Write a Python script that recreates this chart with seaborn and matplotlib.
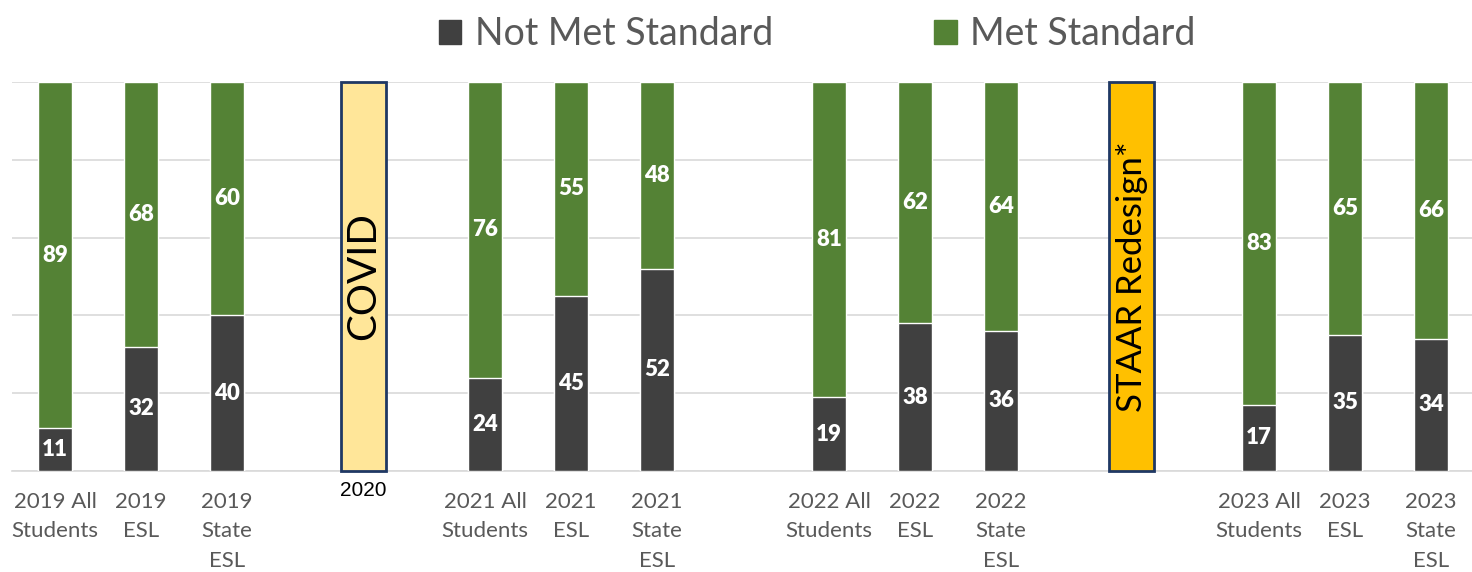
import matplotlib
matplotlib.use("Agg")
import matplotlib.pyplot as plt
import seaborn as sns
import pandas as pd
import numpy as np
from matplotlib.patches import Rectangle, Patch

# ---------------- data ----------------
categories = ["2019 All\nStudents", "2019\nESL", "2019\nState\nESL", "", "",
              "2021 All\nStudents", "2021\nESL", "2021\nState\nESL", "",
              "2022 All\nStudents", "2022\nESL", "2022\nState\nESL", "", "",
              "2023 All\nStudents", "2023\nESL", "2023\nState\nESL"]
not_met = [11, 32, 40, None, None, 24, 45, 52, None, 19, 38, 36, None, None, 17, 35, 34]
met = [89, 68, 60, None, None, 76, 55, 48, None, 81, 62, 64, None, None, 83, 65, 66]
series_names = ["Not Met Standard", "Met Standard"]
event_labels = ["COVID", "STAAR Redesign*"]
event_year = "2020"

# ---------------- style ----------------
DARK = "#404040"
GREEN = "#548235"
GRID = "#d9d9d9"
TXT = "#595959"

sns.set_theme(style="white")
plt.rcParams["font.family"] = ["Lato", "DejaVu Sans"]

keys = [f"c{i}" for i in range(len(categories))]
df = pd.DataFrame({
    "key": keys,
    "not_met": pd.to_numeric(pd.Series(not_met, dtype="float")),
    "met": pd.to_numeric(pd.Series(met, dtype="float")),
})
df["total"] = df["not_met"] + df["met"]
df_plot = df.dropna()

fig = plt.figure(figsize=(14.72, 5.72), dpi=100)
ax = fig.add_axes([12 / 1472, 101 / 572, 1462 / 1472, 389 / 572])

BW = 0.40
sns.barplot(data=df_plot, x="key", y="total", order=keys, color=GREEN,
            saturation=1, width=BW, errorbar=None, ax=ax, zorder=3)
sns.barplot(data=df_plot, x="key", y="not_met", order=keys, color=DARK,
            saturation=1, width=BW, errorbar=None, ax=ax, zorder=3)

# data labels
for i, row in df.iterrows():
    if np.isnan(row["not_met"]):
        continue
    ax.text(i, row["not_met"] / 2, f"{int(row['not_met'])}", ha="center", va="center",
            color="white", fontsize=16, fontweight="heavy", zorder=5)
    ax.text(i, row["not_met"] + row["met"] / 2, f"{int(row['met'])}", ha="center",
            va="center", color="white", fontsize=16, fontweight="heavy", zorder=5)

# event boxes
events = [(3.59, "#FFE699", event_labels[0], 29), (12.52, "#FFC000", event_labels[1], 25)]
for xc, fc, lab, fs in events:
    w = 0.52
    ax.add_patch(Rectangle((xc - w / 2, 0), w, 100, facecolor=fc, edgecolor="#1F3864",
                           linewidth=2, zorder=4, clip_on=False))
    ax.text(xc, 50, lab, rotation=90, ha="center", va="center", color="black",
            fontsize=fs, zorder=6)
ax.text(3.59, -2.6, event_year, ha="center", va="top", color="black", fontsize=15,
        family=["Liberation Sans", "DejaVu Sans"], zorder=6)

# axes styling
ax.set_xlim(-0.5, len(categories) - 0.5)
ax.set_ylim(0, 100)
ax.set_yticks(np.arange(0, 101, 20))
ax.set_yticklabels([])
ax.yaxis.grid(True, color=GRID, linewidth=1.2, zorder=0)
ax.set_axisbelow(True)
ax.tick_params(axis="y", length=0)
for s in ["top", "right", "left"]:
    ax.spines[s].set_visible(False)
ax.spines["bottom"].set_color(GRID)
ax.spines["bottom"].set_linewidth(1.2)
ax.set_xticks(range(len(categories)))
ax.set_xticklabels(categories, color=TXT, fontsize=16, linespacing=1.6)
ax.set_xticks(np.arange(-0.5, len(categories), 1), minor=True)
ax.tick_params(axis="x", which="major", length=0, pad=15)
ax.tick_params(axis="x", which="minor", length=7, color=GRID, width=1.2)
ax.set_xlabel("")
ax.set_ylabel("")

# legend
handles = [Patch(facecolor=DARK, edgecolor=DARK), Patch(facecolor=GREEN, edgecolor=GREEN)]
leg = fig.legend(handles, series_names, loc="center", bbox_to_anchor=(0.555, 0.94),
                 ncol=2, frameon=False, fontsize=27, handlelength=0.6, handleheight=0.6,
                 handletextpad=0.35, columnspacing=4.3, borderaxespad=0)
for t in leg.get_texts():
    t.set_color(TXT)

fig.savefig("out.png", dpi=100)
